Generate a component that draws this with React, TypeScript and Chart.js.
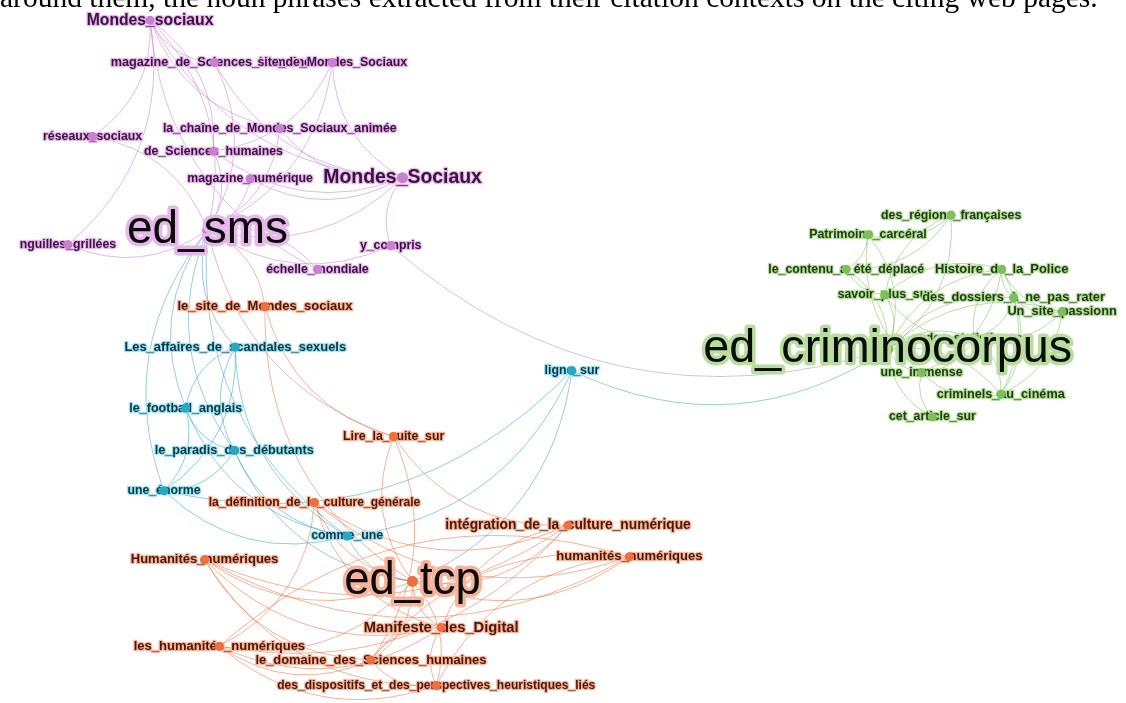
import React, { useEffect, useRef } from "react";
import { Chart, registerables } from "chart.js";

Chart.register(...registerables);

const W = 1126;
const H = 703;

const captionText =
  "around them, the noun phrases extracted from their citation contexts on the citing web pages.";

// clusters: 0 = ed_sms (purple), 1 = ed_tcp (orange), 2 = teal, 3 = ed_criminocorpus (green)
const clusterDot = ["#c97fd2", "#f06f3e", "#26a9c5", "#7dbf5a"];
const clusterHalo = ["#e6b8ea", "#f7b49c", "#a6dfec", "#b8de9f"];
const clusterText = ["#3a1140", "#4a1807", "#063a48", "#1d3c0d"];

const nodeLabels = [
  "Mondes_sociaux",
  "magazine_de_Sciences_humaines",
  "site_de_Mondes_Sociaux",
  "réseaux_sociaux",
  "la_chaîne_de_Mondes_Sociaux_animée",
  "de_Sciences_humaines",
  "magazine_numérique",
  "Mondes_Sociaux",
  "ed_sms",
  "nguilles_grillées",
  "y_compris",
  "échelle_mondiale",
  "le_site_de_Mondes_sociaux",
  "Lire_la_suite_sur",
  "la_définition_de_la_culture_générale",
  "intégration_de_la_culture_numérique",
  "humanités_numériques",
  "Humanités_numériques",
  "ed_tcp",
  "Manifeste_des_Digital",
  "les_humanités_numériques",
  "le_domaine_des_Sciences_humaines",
  "des_dispositifs_et_des_perspectives_heuristiques_liés",
  "Les_affaires_de_scandales_sexuels",
  "le_football_anglais",
  "le_paradis_des_débutants",
  "une_énorme",
  "comme_une",
  "ligne_sur",
  "des_régions_françaises",
  "Patrimoine_carcéral",
  "le_contenu_a_été_déplacé",
  "Histoire_de_la_Police",
  "savoir_plus_sur",
  "des_dossiers_à_ne_pas_rater",
  "Un_site_passionn",
  "des_statistiques",
  "ed_criminocorpus",
  "une_immense",
  "criminels_au_cinéma",
  "cet_article_sur",
];

const nodeX = [
  146, 211, 330, 88, 277, 210, 247, 401, 204, 63, 389, 315,
  262, 392, 312, 568, 630, 201, 411, 440, 216, 369, 435,
  232, 182, 231, 160, 345, 572,
  955, 871, 849, 1006, 888, 1018, 1067, 978, 891, 925, 1005, 936,
];

const nodeY = [
  15, 58, 58, 133, 125, 148, 176, 175, 228, 243, 244, 268,
  306, 438, 505, 528, 560, 563, 585, 632, 651, 665, 691,
  347, 409, 452, 493, 539, 371,
  213, 233, 268, 268, 294, 297, 311, 338, 349, 373, 395, 418,
];

const nodeCluster = [
  0, 0, 0, 0, 0, 0, 0, 0, 0, 0, 0, 0,
  1, 1, 1, 1, 1, 1, 1, 1, 1, 1, 1,
  2, 2, 2, 2, 2, 2,
  3, 3, 3, 3, 3, 3, 3, 3, 3, 3, 3, 3,
];

// relative label weight (1 = ordinary phrase, higher = more cited, 3+ = source site)
const nodeWeight = [
  1.28, 1.03, 1.0, 1.0, 1.0, 1.0, 1.0, 1.58, 3.74, 1.0, 1.0, 1.0,
  1.06, 1.0, 0.98, 1.12, 1.06, 1.06, 3.7, 1.2, 1.06, 1.05, 0.98,
  1.05, 1.02, 1.03, 1.0, 1.0, 1.0,
  1.0, 1.0, 1.0, 1.05, 1.0, 1.04, 1.04, 1.0, 3.8, 1.0, 1.03, 1.0,
];

const edgeList: [string, string][] = [
  // ed_sms cluster
  ["ed_sms", "Mondes_sociaux"],
  ["ed_sms", "magazine_de_Sciences_humaines"],
  ["ed_sms", "site_de_Mondes_Sociaux"],
  ["ed_sms", "réseaux_sociaux"],
  ["ed_sms", "la_chaîne_de_Mondes_Sociaux_animée"],
  ["ed_sms", "de_Sciences_humaines"],
  ["ed_sms", "magazine_numérique"],
  ["ed_sms", "Mondes_Sociaux"],
  ["nguilles_grillées", "ed_sms"],
  ["ed_sms", "y_compris"],
  ["échelle_mondiale", "ed_sms"],
  ["réseaux_sociaux", "Mondes_sociaux"],
  ["Mondes_sociaux", "magazine_de_Sciences_humaines"],
  ["Mondes_sociaux", "Mondes_Sociaux"],
  ["Mondes_sociaux", "la_chaîne_de_Mondes_Sociaux_animée"],
  ["Mondes_sociaux", "échelle_mondiale"],
  ["de_Sciences_humaines", "Mondes_sociaux"],
  ["nguilles_grillées", "Mondes_sociaux"],
  ["site_de_Mondes_Sociaux", "Mondes_Sociaux"],
  ["de_Sciences_humaines", "site_de_Mondes_Sociaux"],
  ["magazine_de_Sciences_humaines", "Mondes_Sociaux"],
  ["la_chaîne_de_Mondes_Sociaux_animée", "Mondes_Sociaux"],
  ["magazine_numérique", "Mondes_Sociaux"],
  ["de_Sciences_humaines", "Mondes_Sociaux"],
  ["Mondes_Sociaux", "y_compris"],
  ["y_compris", "ed_criminocorpus"],
  // teal
  ["ed_sms", "Les_affaires_de_scandales_sexuels"],
  ["ed_sms", "le_football_anglais"],
  ["ed_sms", "le_paradis_des_débutants"],
  ["ed_sms", "une_énorme"],
  ["ed_sms", "comme_une"],
  ["le_site_de_Mondes_sociaux", "ed_sms"],
  ["ed_sms", "Lire_la_suite_sur"],
  ["Les_affaires_de_scandales_sexuels", "le_football_anglais"],
  ["Les_affaires_de_scandales_sexuels", "le_paradis_des_débutants"],
  ["une_énorme", "Les_affaires_de_scandales_sexuels"],
  ["Les_affaires_de_scandales_sexuels", "comme_une"],
  ["le_football_anglais", "le_paradis_des_débutants"],
  ["une_énorme", "le_football_anglais"],
  ["le_football_anglais", "comme_une"],
  ["une_énorme", "le_paradis_des_débutants"],
  ["le_paradis_des_débutants", "comme_une"],
  ["une_énorme", "comme_une"],
  ["une_énorme", "ligne_sur"],
  ["comme_une", "ligne_sur"],
  ["ligne_sur", "ed_criminocorpus"],
  ["ed_tcp", "ligne_sur"],
  ["comme_une", "ed_tcp"],
  ["le_paradis_des_débutants", "ed_tcp"],
  // ed_tcp
  ["le_site_de_Mondes_sociaux", "ed_tcp"],
  ["Lire_la_suite_sur", "ed_tcp"],
  ["la_définition_de_la_culture_générale", "ed_tcp"],
  ["ed_tcp", "intégration_de_la_culture_numérique"],
  ["ed_tcp", "humanités_numériques"],
  ["Humanités_numériques", "ed_tcp"],
  ["ed_tcp", "Manifeste_des_Digital"],
  ["les_humanités_numériques", "ed_tcp"],
  ["le_domaine_des_Sciences_humaines", "ed_tcp"],
  ["des_dispositifs_et_des_perspectives_heuristiques_liés", "ed_tcp"],
  ["le_site_de_Mondes_sociaux", "Lire_la_suite_sur"],
  ["Lire_la_suite_sur", "intégration_de_la_culture_numérique"],
  ["le_domaine_des_Sciences_humaines", "Lire_la_suite_sur"],
  ["la_définition_de_la_culture_générale", "intégration_de_la_culture_numérique"],
  ["la_définition_de_la_culture_générale", "humanités_numériques"],
  ["les_humanités_numériques", "la_définition_de_la_culture_générale"],
  ["la_définition_de_la_culture_générale", "Manifeste_des_Digital"],
  ["Humanités_numériques", "intégration_de_la_culture_numérique"],
  ["les_humanités_numériques", "intégration_de_la_culture_numérique"],
  ["intégration_de_la_culture_numérique", "Manifeste_des_Digital"],
  ["Humanités_numériques", "humanités_numériques"],
  ["humanités_numériques", "le_domaine_des_Sciences_humaines"],
  ["humanités_numériques", "des_dispositifs_et_des_perspectives_heuristiques_liés"],
  ["humanités_numériques", "les_humanités_numériques"],
  ["Humanités_numériques", "Manifeste_des_Digital"],
  ["Humanités_numériques", "le_domaine_des_Sciences_humaines"],
  ["Humanités_numériques", "des_dispositifs_et_des_perspectives_heuristiques_liés"],
  ["les_humanités_numériques", "Manifeste_des_Digital"],
  ["Manifeste_des_Digital", "le_domaine_des_Sciences_humaines"],
  ["Manifeste_des_Digital", "des_dispositifs_et_des_perspectives_heuristiques_liés"],
  ["les_humanités_numériques", "le_domaine_des_Sciences_humaines"],
  ["les_humanités_numériques", "des_dispositifs_et_des_perspectives_heuristiques_liés"],
  ["le_domaine_des_Sciences_humaines", "des_dispositifs_et_des_perspectives_heuristiques_liés"],
  // ed_criminocorpus
  ["ed_criminocorpus", "des_régions_françaises"],
  ["ed_criminocorpus", "Patrimoine_carcéral"],
  ["ed_criminocorpus", "le_contenu_a_été_déplacé"],
  ["Histoire_de_la_Police", "ed_criminocorpus"],
  ["ed_criminocorpus", "savoir_plus_sur"],
  ["des_dossiers_à_ne_pas_rater", "ed_criminocorpus"],
  ["Un_site_passionn", "ed_criminocorpus"],
  ["des_statistiques", "ed_criminocorpus"],
  ["ed_criminocorpus", "une_immense"],
  ["criminels_au_cinéma", "ed_criminocorpus"],
  ["ed_criminocorpus", "cet_article_sur"],
  ["Histoire_de_la_Police", "savoir_plus_sur"],
  ["Histoire_de_la_Police", "des_dossiers_à_ne_pas_rater"],
  ["Histoire_de_la_Police", "Un_site_passionn"],
  ["Histoire_de_la_Police", "des_statistiques"],
  ["une_immense", "Histoire_de_la_Police"],
  ["criminels_au_cinéma", "Histoire_de_la_Police"],
  ["Patrimoine_carcéral", "des_régions_françaises"],
  ["le_contenu_a_été_déplacé", "des_régions_françaises"],
  ["des_régions_françaises", "savoir_plus_sur"],
  ["le_contenu_a_été_déplacé", "Patrimoine_carcéral"],
  ["Patrimoine_carcéral", "une_immense"],
  ["le_contenu_a_été_déplacé", "savoir_plus_sur"],
  ["des_dossiers_à_ne_pas_rater", "Un_site_passionn"],
  ["des_statistiques", "des_dossiers_à_ne_pas_rater"],
  ["criminels_au_cinéma", "des_dossiers_à_ne_pas_rater"],
  ["criminels_au_cinéma", "Un_site_passionn"],
  ["des_statistiques", "Un_site_passionn"],
  ["une_immense", "des_statistiques"],
  ["criminels_au_cinéma", "des_statistiques"],
  ["une_immense", "cet_article_sur"],
  ["une_immense", "criminels_au_cinéma"],
  ["savoir_plus_sur", "des_statistiques"],
];

function hexToRgb(h: string) {
  const n = parseInt(h.slice(1), 16);
  return [(n >> 16) & 255, (n >> 8) & 255, n & 255];
}

function mixColor(a: string, b: string, wa: number, alpha: number) {
  const ca = hexToRgb(a);
  const cb = hexToRgb(b);
  const m = ca.map((v, i) => Math.round(v * wa + cb[i] * (1 - wa)));
  return `rgba(${m[0]},${m[1]},${m[2]},${alpha})`;
}

const BASE_FONT = 12.3;
const FONT_FAMILY = '"Liberation Sans", Arial, sans-serif';

function isHub(i: number) {
  return nodeWeight[i] > 3;
}

function drawLabel(ctx: CanvasRenderingContext2D, i: number, px: number, py: number) {
  const size = BASE_FONT * nodeWeight[i];
  const c = nodeCluster[i];
  ctx.font = `${isHub(i) ? "normal" : "bold"} ${size}px ${FONT_FAMILY}`;
  ctx.textAlign = "center";
  ctx.textBaseline = "middle";
  ctx.lineJoin = "round";
  ctx.lineWidth = isHub(i) ? 7 : 2.6;
  ctx.strokeStyle = clusterHalo[c];
  ctx.strokeText(nodeLabels[i], px, py);
  ctx.fillStyle = isHub(i) ? "#0c0c0c" : clusterText[c];
  ctx.fillText(nodeLabels[i], px, py);
}

function edgeColor(a: number, b: number) {
  const ca = nodeCluster[a];
  const cb = nodeCluster[b];
  if (ca === cb) return mixColor(clusterDot[ca], clusterDot[cb], 0.5, 0.6);
  if (ca === 2) return mixColor(clusterDot[ca], clusterDot[cb], 0.8, 0.6);
  if (cb === 2) return mixColor(clusterDot[cb], clusterDot[ca], 0.8, 0.6);
  return mixColor(clusterDot[ca], clusterDot[cb], 0.5, 0.6);
}

const networkPlugin = {
  id: "networkPlugin",
  beforeDatasetsDraw(chart: any) {
    const ctx: CanvasRenderingContext2D = chart.ctx;
    const xs = chart.scales.x;
    const ys = chart.scales.y;
    const idx = (name: string) => nodeLabels.indexOf(name);
    ctx.save();
    edgeList.forEach(([s, t]) => {
      const a = idx(s);
      const b = idx(t);
      if (a < 0 || b < 0) return;
      const x1 = xs.getPixelForValue(nodeX[a]);
      const y1 = ys.getPixelForValue(nodeY[a]);
      const x2 = xs.getPixelForValue(nodeX[b]);
      const y2 = ys.getPixelForValue(nodeY[b]);
      const dx = x2 - x1;
      const dy = y2 - y1;
      const k = 0.28;
      const cx = (x1 + x2) / 2 - dy * k;
      const cy = (y1 + y2) / 2 + dx * k;
      ctx.beginPath();
      ctx.moveTo(x1, y1);
      ctx.quadraticCurveTo(cx, cy, x2, y2);
      ctx.strokeStyle = edgeColor(a, b);
      ctx.lineWidth = 0.9;
      ctx.stroke();
    });
    nodeLabels.forEach((_, i) => {
      if (isHub(i)) return;
      drawLabel(ctx, i, xs.getPixelForValue(nodeX[i]), ys.getPixelForValue(nodeY[i]));
    });
    ctx.restore();
  },
  afterDatasetsDraw(chart: any) {
    const ctx: CanvasRenderingContext2D = chart.ctx;
    const xs = chart.scales.x;
    const ys = chart.scales.y;
    ctx.save();
    nodeLabels.forEach((_, i) => {
      if (!isHub(i)) return;
      drawLabel(ctx, i, xs.getPixelForValue(nodeX[i]), ys.getPixelForValue(nodeY[i]));
    });
    ctx.restore();
  },
};

export default function App() {
  const canvasRef = useRef<HTMLCanvasElement | null>(null);

  useEffect(() => {
    document.body.style.margin = "0";
    document.body.style.background = "#ffffff";
    if (!canvasRef.current) return;
    const datasets = [0, 1, 2, 3].map((c) => {
      const members = nodeLabels.map((_, i) => i).filter((i) => nodeCluster[i] === c);
      return {
        label: "cluster" + c,
        data: members.map((i) => ({ x: nodeX[i], y: nodeY[i] })),
        pointRadius: members.map((i) => (isHub(i) ? 5.5 : nodeWeight[i] > 1.3 ? 5.5 : 4.6)),
        pointHoverRadius: members.map((i) => (isHub(i) ? 5.5 : 4.6)),
        pointBackgroundColor: clusterDot[c],
        pointBorderWidth: 0,
        showLine: false,
      };
    });
    const chart = new Chart(canvasRef.current, {
      type: "scatter",
      data: { datasets },
      options: {
        animation: false,
        responsive: true,
        maintainAspectRatio: false,
        layout: { padding: 0 },
        plugins: { legend: { display: false }, tooltip: { enabled: false } },
        scales: {
          x: { type: "linear", min: 0, max: W, display: false },
          y: { type: "linear", min: 0, max: H, reverse: true, display: false },
        },
      },
      plugins: [networkPlugin],
    } as any);
    return () => chart.destroy();
  }, []);

  return (
    <div style={{ position: "relative", width: W, height: H, overflow: "hidden", background: "#fff" }}>
      <div style={{ position: "absolute", left: 0, top: 0, width: W, height: H }}>
        <canvas ref={canvasRef} />
      </div>
      <div
        style={{
          position: "absolute",
          left: 0,
          top: -17,
          width: W + 200,
          height: 27,
          background: "#fff",
          fontFamily: '"Liberation Serif", "Times New Roman", serif',
          fontSize: 29.5,
          lineHeight: "29.5px",
          whiteSpace: "nowrap",
          color: "#000",
          zIndex: 2,
        }}
      >
        {captionText}
      </div>
    </div>
  );
}
